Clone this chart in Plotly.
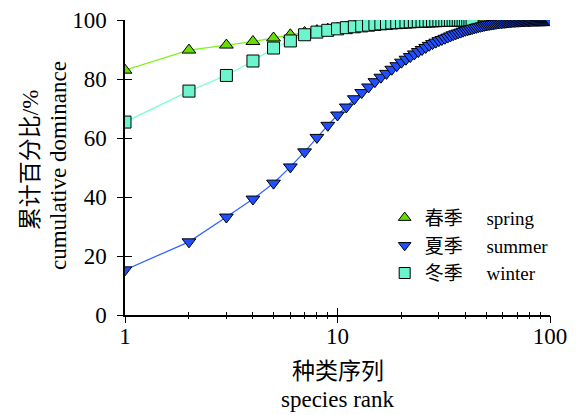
import plotly.graph_objects as go

# ---- data ----
spring_rank = list(range(1, 61))
spring_val = [83.0, 89.8, 91.5, 92.7, 93.9, 95.0, 95.8, 96.4, 96.9, 97.3,
              97.6, 97.9, 98.1, 98.3, 98.5, 98.65, 98.8, 98.9, 99.0, 99.1,
              99.18, 99.25, 99.32, 99.38, 99.44, 99.5, 99.55, 99.6, 99.64, 99.68,
              99.71, 99.74, 99.77, 99.8, 99.82, 99.84, 99.86, 99.88, 99.9, 99.91,
              99.92, 99.93, 99.94, 99.95, 99.955, 99.96, 99.965, 99.97, 99.975, 99.98,
              99.983, 99.986, 99.988, 99.99, 99.992, 99.994, 99.996, 99.998, 99.999, 100.0]

summer_rank = list(range(1, 101))
summer_val = [15.3, 24.8, 33.2, 39.3, 44.7, 50.2, 55.3, 60.2, 64.3, 67.8,
              70.5, 73.3, 75.4, 77.3, 79.1, 80.6, 81.9, 83.3, 84.5, 85.7,
              86.7, 87.6, 88.5, 89.3, 90.0, 90.7, 91.4, 92.0, 92.5, 93.0,
              93.4, 93.8, 94.2, 94.6, 95.0, 95.3, 95.6, 95.9, 96.2, 96.5,
              96.7, 96.9, 97.1, 97.3, 97.5, 97.7, 97.85, 98.0, 98.15, 98.3,
              98.4, 98.5, 98.6, 98.7, 98.8, 98.9, 99.0, 99.05, 99.1, 99.15,
              99.2, 99.25, 99.3, 99.35, 99.4, 99.45, 99.5, 99.52, 99.55, 99.58,
              99.6, 99.62, 99.64, 99.66, 99.68, 99.7, 99.72, 99.74, 99.76, 99.78,
              99.8, 99.81, 99.82, 99.83, 99.84, 99.85, 99.86, 99.87, 99.88, 99.89,
              99.9, 99.91, 99.92, 99.93, 99.94, 99.95, 99.96, 99.97, 99.98, 100.0]

winter_rank = list(range(1, 44))
winter_val = [65.4, 75.9, 81.2, 86.1, 90.5, 92.9, 95.0, 95.9, 96.5, 97.0,
              97.4, 97.7, 98.0, 98.25, 98.5, 98.7, 98.85, 99.0, 99.1, 99.2,
              99.3, 99.38, 99.45, 99.52, 99.58, 99.63, 99.68, 99.72, 99.76, 99.8,
              99.83, 99.86, 99.88, 99.9, 99.92, 99.94, 99.95, 99.96, 99.97, 99.98,
              99.99, 99.995, 100.0]

y_ticks = [0, 20, 40, 60, 80, 100]
x_ticks = [1, 10, 100]

NB = "\u00a0"
names = {
    "spring": "春季" + NB * 5 + "spring",
    "summer": "夏季" + NB * 5 + "summer",
    "winter": "冬季" + NB * 5 + "winter",
}
x_title_lines = ["种类序列", "species rank"]
y_title_lines = ["累计百分比/%", "cumulative dominance"]

FONT = "Liberation Serif, Times New Roman, Noto Sans CJK SC, serif"

styles = {
    "spring": dict(line="#7cf51a", fill="#66dd00", symbol="triangle-up"),
    "summer": dict(line="#3366ff", fill="#1f4fff", symbol="triangle-down"),
    "winter": dict(line="#7fffd4", fill="#6cf5cc", symbol="square"),
}
series = {
    "spring": (spring_rank, spring_val),
    "winter": (winter_rank, winter_val),
    "summer": (summer_rank, summer_val),
}

fig = go.Figure()
for key in ["spring", "winter", "summer"]:
    xs, ys = series[key]
    st = styles[key]
    fig.add_trace(go.Scatter(
        x=xs, y=ys, mode="lines+markers", showlegend=False,
        line=dict(color=st["line"], width=1.3),
        marker=dict(symbol=st["symbol"], size=12, color=st["fill"],
                    line=dict(color="black", width=1))))

# legend entries (marker only, as in the reference)
for rank, key in enumerate(["spring", "summer", "winter"], start=1):
    st = styles[key]
    fig.add_trace(go.Scatter(
        x=[None], y=[None], mode="markers", name=names[key], legendrank=rank,
        marker=dict(symbol=st["symbol"], size=11, color=st["fill"],
                    line=dict(color="black", width=1))))

# empty trace to activate the overlay axes (outer half of crossing ticks)
fig.add_trace(go.Scatter(x=[], y=[], xaxis="x2", yaxis="y2", showlegend=False,
                         hoverinfo="skip"))

annotations = [
    dict(text=x_title_lines[0], x=0.5, y=-0.193, xref="paper", yref="paper",
         showarrow=False, xanchor="center", yanchor="middle", font=dict(size=23)),
    dict(text=x_title_lines[1], x=0.5, y=-0.288, xref="paper", yref="paper",
         showarrow=False, xanchor="center", yanchor="middle", font=dict(size=23)),
    dict(text=y_title_lines[0], x=-0.2235, y=0.525, xref="paper", yref="paper",
         showarrow=False, xanchor="center", yanchor="middle", textangle=-90,
         font=dict(size=23)),
    dict(text=y_title_lines[1], x=-0.158, y=0.508, xref="paper", yref="paper",
         showarrow=False, xanchor="center", yanchor="middle", textangle=-90,
         font=dict(size=23)),
]

fig.update_layout(
    width=568, height=407,
    margin=dict(l=117, r=26, t=12, b=100),
    paper_bgcolor="white", plot_bgcolor="white",
    font=dict(family=FONT, color="black", size=22),
    annotations=annotations,
    xaxis=dict(type="log", range=[0, 2], tickvals=x_ticks,
               ticktext=[str(v) for v in x_ticks], automargin=False,
               ticks="inside", ticklen=7, showline=True,
               linecolor="black", linewidth=1.5, tickcolor="black", tickwidth=1.3,
               showgrid=False, zeroline=False,
               tickfont=dict(size=23), ticklabelstandoff=0,
               minor=dict(ticks="inside", ticklen=3, tickcolor="black",
                          tickwidth=1.2, dtick="D1", showgrid=False)),
    yaxis=dict(range=[0, 100], tickvals=y_ticks, ticks="inside", ticklen=7,
               showline=True, automargin=False,
               linecolor="black", linewidth=1.5, tickcolor="black", tickwidth=1.3,
               showgrid=False, zeroline=False,
               tickfont=dict(size=23), ticklabelstandoff=12),
    xaxis2=dict(type="log", range=[0, 2], overlaying="x", anchor="y2",
                tickvals=x_ticks, ticks="outside", ticklen=7, showticklabels=False,
                showline=False, showgrid=False, zeroline=False,
                tickcolor="black", tickwidth=1.3, automargin=False,
                minor=dict(ticks="outside", ticklen=3, tickcolor="black",
                           tickwidth=1.2, dtick="D1", showgrid=False)),
    yaxis2=dict(range=[0, 100], overlaying="y", anchor="x2",
                tickvals=y_ticks, ticks="outside", ticklen=7,
                showticklabels=False, showline=False, showgrid=False,
                zeroline=False, tickcolor="black", tickwidth=1.3, automargin=False),
    legend=dict(x=0.611, y=0.394, xanchor="left", yanchor="top",
                bgcolor="rgba(0,0,0,0)", font=dict(size=19),
                tracegroupgap=0, itemwidth=30),
    showlegend=True,
)

fig.write_html("out.html")
